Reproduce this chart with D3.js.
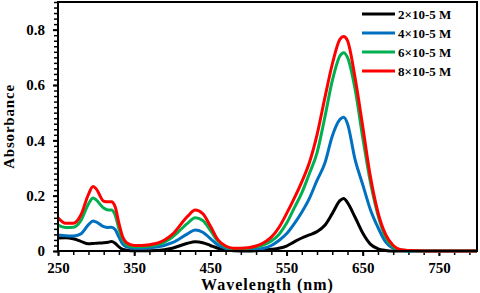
<!DOCTYPE html>
<html>
<head>
<meta charset="utf-8">
<script src="https://cdn.jsdelivr.net/npm/d3@7"></script>
<style>
  body { margin: 0; background: #fff; }
  text { font-family: "Liberation Serif", "Times New Roman", serif; font-weight: bold; }
</style>
</head>
<body>
<script>
// Wavelengths (nm) shared by all series
const wavelengths = [250,260,270,280,290,296,300,310,316,320,325,330,335,340,350,360,380,400,420,430,440,450,460,470,480,500,510,520,530,540,550,560,570,580,590,600,610,620,625,630,640,650,660,670,680,690,700,720,750,800];

const conc2 = [0.047,0.048,0.044,0.035,0.026,0.027,0.028,0.030,0.032,0.034,0.028,0.015,0.006,0.003,0.001,0.001,0.002,0.010,0.028,0.033,0.030,0.020,0.010,0.004,0.001,0.000,0.001,0.003,0.006,0.010,0.018,0.033,0.047,0.058,0.070,0.092,0.135,0.182,0.190,0.175,0.122,0.065,0.025,0.008,0.002,0,0,0,0,0];
const conc4 = [0.058,0.055,0.054,0.062,0.095,0.108,0.105,0.088,0.085,0.086,0.078,0.050,0.025,0.015,0.010,0.010,0.014,0.030,0.062,0.076,0.068,0.045,0.022,0.010,0.005,0.004,0.006,0.010,0.020,0.038,0.062,0.098,0.140,0.190,0.255,0.315,0.415,0.475,0.483,0.460,0.330,0.240,0.150,0.085,0.033,0.010,0.003,0,0,0];
const conc6 = [0.094,0.085,0.086,0.110,0.170,0.192,0.185,0.155,0.148,0.148,0.130,0.080,0.040,0.022,0.015,0.015,0.022,0.050,0.100,0.120,0.110,0.075,0.035,0.015,0.008,0.010,0.014,0.022,0.036,0.060,0.100,0.155,0.210,0.280,0.355,0.480,0.615,0.705,0.717,0.700,0.585,0.410,0.250,0.130,0.050,0.015,0.004,0.001,0,0];
const conc8 = [0.120,0.100,0.100,0.130,0.205,0.233,0.225,0.180,0.178,0.178,0.160,0.100,0.050,0.030,0.020,0.020,0.028,0.060,0.125,0.148,0.135,0.090,0.040,0.018,0.010,0.012,0.018,0.030,0.050,0.085,0.135,0.190,0.250,0.320,0.420,0.550,0.675,0.765,0.775,0.760,0.625,0.450,0.270,0.140,0.060,0.020,0.005,0.001,0,0];

const seriesNames = ["2×10-5 M", "4×10-5 M", "6×10-5 M", "8×10-5 M"];
const seriesColors = ["#000000", "#0070c0", "#00b050", "#ff0000"];
const seriesValues = [conc2, conc4, conc6, conc8];

const xTicks = [250, 350, 450, 550, 650, 750];
const yTicks = [0, 0.2, 0.4, 0.6, 0.8];

const width = 480, height = 293;
const margin = { top: 2, right: 3, bottom: 42, left: 58 };

const svg = d3.select("body").append("svg")
    .attr("width", width)
    .attr("height", height);

const x = d3.scaleLinear().domain([250, 800]).range([margin.left, width - margin.right]);
const y = d3.scaleLinear().domain([0, 0.9]).range([height - margin.bottom, margin.top]);

// Minor ticks
svg.append("g")
    .attr("transform", `translate(0,${y(0)})`)
    .call(d3.axisBottom(x).tickValues(d3.range(250, 801, 20)).tickSize(4).tickFormat(""))
    .call(g => g.select(".domain").remove())
    .call(g => g.selectAll("line").attr("stroke-width", 1.5));

svg.append("g")
    .attr("transform", `translate(${x(250)},0)`)
    .call(d3.axisLeft(y).tickValues(d3.range(0, 0.901, 0.02)).tickSize(4).tickFormat(""))
    .call(g => g.select(".domain").remove())
    .call(g => g.selectAll("line").attr("stroke-width", 1.5));

// Major ticks with labels
svg.append("g")
    .attr("transform", `translate(0,${y(0)})`)
    .call(d3.axisBottom(x).tickValues(xTicks).tickSize(5).tickPadding(6))
    .call(g => g.select(".domain").remove())
    .call(g => g.selectAll("line").attr("stroke-width", 2))
    .call(g => g.selectAll("text").attr("font-size", 15).attr("fill", "#000"));

svg.append("g")
    .attr("transform", `translate(${x(250)},0)`)
    .call(d3.axisLeft(y).tickValues(yTicks).tickSize(5).tickPadding(8)
        .tickFormat(d => d === 0 ? "0" : d3.format(".1f")(d)))
    .call(g => g.select(".domain").remove())
    .call(g => g.selectAll("line").attr("stroke-width", 2))
    .call(g => g.selectAll("text").attr("font-size", 15).attr("fill", "#000"));

// Curves
const line = d3.line()
    .x((d, i) => x(wavelengths[i]))
    .y(d => y(d))
    .curve(d3.curveMonotoneX);

svg.append("g").selectAll("path")
    .data(seriesValues)
    .enter().append("path")
    .attr("d", line)
    .attr("fill", "none")
    .attr("stroke", (d, i) => seriesColors[i])
    .attr("stroke-width", 3)
    .attr("stroke-linejoin", "round");

// Frame
svg.append("rect")
    .attr("x", x(250))
    .attr("y", y(0.9))
    .attr("width", x(800) - x(250))
    .attr("height", y(0) - y(0.9))
    .attr("fill", "none")
    .attr("stroke", "#000")
    .attr("stroke-width", 2);

// Legend
const legend = svg.append("g")
    .selectAll("g")
    .data(seriesNames)
    .enter().append("g")
    .attr("transform", (d, i) => `translate(362,${14 + i * 19})`);

legend.append("line")
    .attr("x1", 0).attr("x2", 33)
    .attr("stroke", (d, i) => seriesColors[i])
    .attr("stroke-width", 3);

legend.append("text")
    .attr("x", 36)
    .attr("dy", "0.35em")
    .attr("font-size", 13)
    .text(d => d);

// Axis titles
svg.append("text")
    .attr("x", (x(250) + x(800)) / 2)
    .attr("y", 290)
    .attr("text-anchor", "middle")
    .attr("font-size", 16)
    .attr("letter-spacing", 1)
    .text("Wavelength (nm)");

svg.append("text")
    .attr("transform", `translate(14,${(y(0) + y(0.9)) / 2}) rotate(-90)`)
    .attr("text-anchor", "middle")
    .attr("font-size", 15)
    .attr("letter-spacing", 0.8)
    .text("Absorbance");
</script>
</body>
</html>
